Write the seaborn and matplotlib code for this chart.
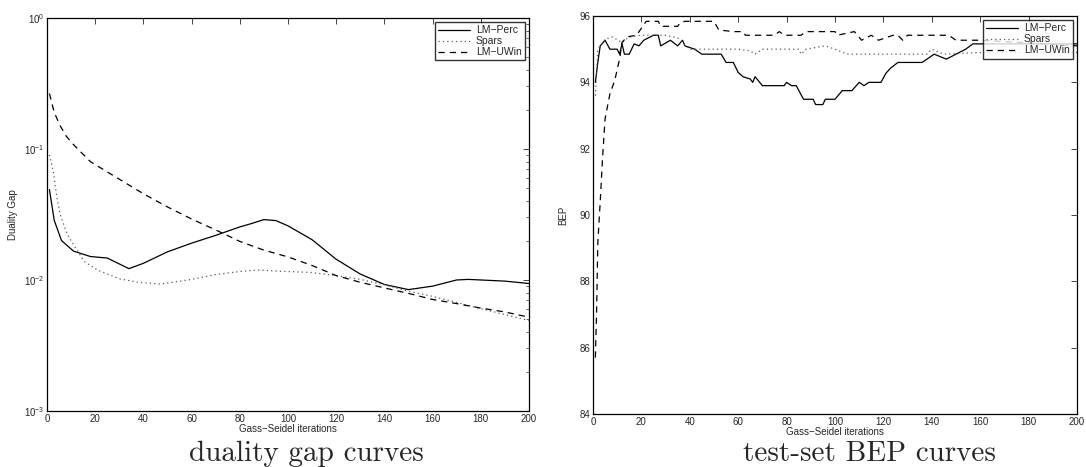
import matplotlib.pyplot as plt
import seaborn as sns
import numpy as np
import pandas as pd

# duality gap curves (log scale)
gap_iter_perc = [1, 3, 6, 11, 18, 25, 34, 40, 50, 60, 70, 80, 85, 90, 95, 100,
                 110, 120, 130, 140, 150, 160, 170, 175, 190, 200]
gap_perc = [0.049, 0.0285, 0.020, 0.0166, 0.0151, 0.0147, 0.0122, 0.0134, 0.0164,
            0.0191, 0.0219, 0.0254, 0.027, 0.0289, 0.0284, 0.0259, 0.0203, 0.0144, 0.0111,
            0.00924, 0.00844, 0.00897, 0.0100, 0.0101, 0.0098, 0.0094]
gap_iter_spars = [1, 2.6, 4, 5.4, 8.3, 11, 15.5, 21, 30, 38, 47, 60, 70, 80, 87, 100, 110,
                  120, 130, 140, 150, 160, 180, 200]
gap_spars = [0.09, 0.067, 0.044, 0.032, 0.0224, 0.0186, 0.0138, 0.0119, 0.0102, 0.0096,
             0.0093, 0.0101, 0.011, 0.0116, 0.0119, 0.0116, 0.0114, 0.0108, 0.0101,
             0.0092, 0.0082, 0.0075, 0.00605, 0.0049]
gap_iter_uwin = [1, 3, 5.4, 8, 11, 18, 30, 40, 50, 60, 70, 80, 90, 100, 110, 120, 130, 140,
                 150, 160, 170, 180, 190, 200]
gap_uwin = [0.265, 0.19, 0.151, 0.125, 0.108, 0.08, 0.0588, 0.0455, 0.0361, 0.0292, 0.0241,
            0.0197, 0.0169, 0.015, 0.0129, 0.0108, 0.0096, 0.0087, 0.0079, 0.0071, 0.0066,
            0.0061, 0.0057, 0.0052]

# test-set BEP curves
bep_iter_perc = [1, 2, 3, 5, 7, 10, 11, 12, 13, 15, 17, 19, 21, 25, 27, 28, 32, 35, 37, 38,
                 42, 45, 53, 55, 58, 60, 62, 65, 66, 67, 70, 79, 80, 82, 84, 87, 91, 92, 95,
                 96, 100, 103, 107, 110, 112, 114, 119, 121, 123, 126, 136, 138, 141, 146,
                 150, 154, 157, 162, 166, 200]
bep_perc = [94.0, 94.6, 95.1, 95.27, 95.0, 95.0, 94.85, 95.16, 94.85, 94.85, 95.16, 95.1,
            95.27, 95.42, 95.42, 95.1, 95.27, 95.1, 95.27, 95.1, 95.0, 94.85, 94.85, 94.6,
            94.6, 94.3, 94.17, 94.1, 94.0, 94.17, 93.9, 93.9, 94.0, 93.9, 93.9, 93.49,
            93.49, 93.33, 93.33, 93.49, 93.49, 93.75, 93.75, 94.0, 93.9, 94.0, 94.0, 94.27,
            94.43, 94.6, 94.6, 94.7, 94.85, 94.7, 94.85, 95.0, 95.16, 95.16, 95.16, 95.16]
bep_iter_spars = [1, 2, 5, 8, 12, 15, 20, 30, 35, 40, 60, 65, 67, 70, 85, 86, 88, 96, 100,
                  105, 138, 140, 145, 160, 200]
bep_spars = [93.6, 95.0, 95.3, 95.37, 95.2, 95.37, 95.42, 95.42, 95.34, 95.0, 95.0, 94.95,
             94.85, 95.0, 95.0, 94.85, 95.0, 95.1, 95.0, 94.85, 94.85, 95.0, 94.85, 94.9,
             94.9]
bep_iter_uwin = [1, 1.5, 2, 3, 4, 5, 7, 9, 11, 12, 14, 18, 20, 22, 27, 28, 32, 35, 36, 38,
                 50, 52, 58, 62, 63, 75, 77, 79, 86, 88, 100, 101, 108, 111, 115, 118, 124,
                 126, 128, 130, 147, 150, 160, 200]
bep_uwin = [85.7, 87.06, 89.15, 90.4, 91.76, 92.9, 93.65, 94.06, 94.7, 95.2, 95.37, 95.42,
            95.63, 95.84, 95.84, 95.69, 95.69, 95.69, 95.79, 95.84, 95.84, 95.58, 95.53,
            95.53, 95.42, 95.42, 95.53, 95.42, 95.42, 95.53, 95.53, 95.42, 95.53, 95.27,
            95.42, 95.27, 95.42, 95.42, 95.27, 95.42, 95.42, 95.27, 95.27, 95.1]

sns.set_style('white')
plt.rcParams['font.family'] = ['Liberation Sans', 'DejaVu Sans']
plt.rcParams['mathtext.fontset'] = 'custom'
plt.rcParams['mathtext.rm'] = 'Liberation Sans'

fig = plt.figure(figsize=(10.86, 4.67), dpi=100)
ax1 = fig.add_axes([0.0433, 0.12, 0.4437, 0.8415])
ax2 = fig.add_axes([0.546, 0.1135, 0.4457, 0.8522])

solid = dict(color='k', linewidth=0.9, linestyle='-')
dotted = dict(color='0.35', linewidth=0.9, linestyle=(0, (1, 2.5)))
dashed = dict(color='k', linewidth=0.9, linestyle=(0, (5, 4)))

sns.lineplot(x=gap_iter_perc, y=gap_perc, ax=ax1, label='LM−Perc', **solid)
sns.lineplot(x=gap_iter_spars, y=gap_spars, ax=ax1, label='Spars', **dotted)
sns.lineplot(x=gap_iter_uwin, y=gap_uwin, ax=ax1, label='LM−UWin', **dashed)
ax1.set_yscale('log')
ax1.set_ylim(1e-3, 1)
ax1.set_ylabel('Duality Gap', fontsize=7, labelpad=4)

sns.lineplot(x=bep_iter_perc, y=bep_perc, ax=ax2, label='LM−Perc', **solid)
sns.lineplot(x=bep_iter_spars, y=bep_spars, ax=ax2, label='Spars', **dotted)
sns.lineplot(x=bep_iter_uwin, y=bep_uwin, ax=ax2, label='LM−UWin', **dashed)
ax2.set_ylim(84, 96)
ax2.set_yticks(np.arange(84, 97, 2))
ax2.set_ylabel('BEP', fontsize=7, labelpad=8)

for ax in (ax1, ax2):
    ax.set_xlim(0, 200)
    ax.set_xticks(np.arange(0, 201, 20))
    ax.set_xlabel('Gass−Seidel iterations', fontsize=7, labelpad=0)
    ax.tick_params(direction='in', top=True, right=True, labelsize=7,
                   length=4, width=0.6, pad=2)
    ax.tick_params(which='minor', direction='in', top=True, right=True, length=2, width=0.5)
    for s in ax.spines.values():
        s.set_linewidth(0.9)
        s.set_color('k')
    leg = ax.legend(loc='upper right', fontsize=7.5, frameon=True, fancybox=False,
                    borderaxespad=0.4, handlelength=3.0, labelspacing=0.1,
                    borderpad=0.3, handletextpad=0.6)
    leg.get_frame().set_edgecolor('k')
    leg.get_frame().set_linewidth(1.0)

fig.text(0.282, 0.028, 'duality gap curves', ha='center', va='center',
         fontsize=21, family='cmr10')
fig.text(0.801, 0.028, 'test-set BEP curves', ha='center', va='center',
         fontsize=21, family='cmr10')

fig.savefig('out.png', dpi=100)
